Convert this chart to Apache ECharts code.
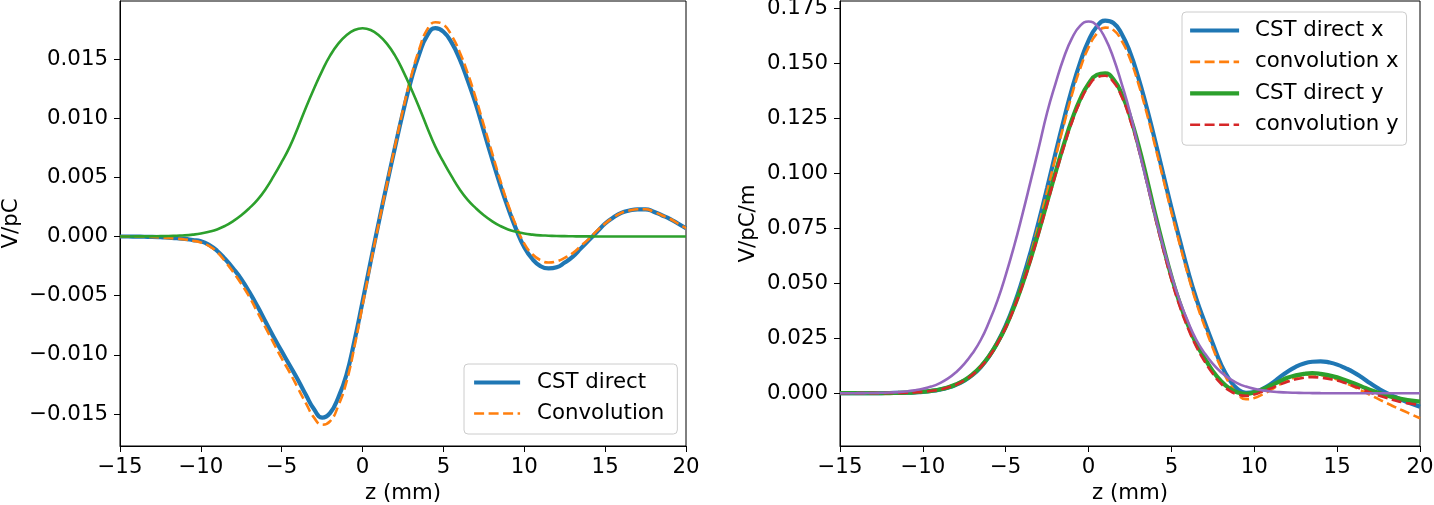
<!DOCTYPE html>
<html>
<head>
<meta charset="utf-8">
<script src="https://cdn.jsdelivr.net/npm/echarts@6/dist/echarts.min.js"></script>
<style>
html,body{margin:0;padding:0;background:#fff;}
#c{width:1434px;height:505px;}
</style>
</head>
<body>
<div id="c"></div>
<script>
// ---------- Left panel data (z in mm, V/pC), z = -15 .. 20 step 0.5 ----------
const zLeft = [-15,-14.5,-14,-13.5,-13,-12.5,-12,-11.5,-11,-10.5,-10,-9.5,-9,-8.5,-8,-7.5,-7,-6.5,-6,-5.5,-5,-4.5,-4,-3.5,-3,-2.5,-2,-1.5,-1,-0.5,0,0.5,1,1.5,2,2.5,3,3.5,4,4.5,5,5.5,6,6.5,7,7.5,8,8.5,9,9.5,10,10.5,11,11.5,12,12.5,13,13.5,14,14.5,15,15.5,16,16.5,17,17.5,18,18.5,19,19.5,20];
const cstDirect = [0,0,-0.00001,-0.00002,-0.00003,-0.00006,-0.0001,-0.00014,-0.0002,-0.0003,-0.0004,-0.0007,-0.0012,-0.0019,-0.0027,-0.0036,-0.0047,-0.0059,-0.0072,-0.0085,-0.0097,-0.0109,-0.0121,-0.0134,-0.0146,-0.0153,-0.0149,-0.0136,-0.0117,-0.0088,-0.0055,-0.0021,0.0012,0.0044,0.0075,0.0105,0.0132,0.0154,0.0170,0.0176,0.0173,0.0164,0.0150,0.0132,0.0112,0.0089,0.0066,0.0044,0.0024,0.0006,-0.0009,-0.0019,-0.0025,-0.0027,-0.0026,-0.0022,-0.0017,-0.0010,-0.0003,0.0004,0.0011,0.0016,0.0020,0.0022,0.0023,0.0023,0.0021,0.0018,0.0015,0.0011,0.0007];
const convolution = [0,0,-0.00001,-0.00002,-0.00004,-0.00008,-0.00012,-0.00018,-0.00025,-0.00035,-0.0005,-0.0008,-0.0013,-0.0021,-0.0030,-0.0040,-0.0051,-0.0064,-0.0077,-0.0090,-0.0103,-0.0115,-0.0128,-0.0141,-0.0153,-0.0159,-0.0156,-0.0143,-0.0123,-0.0093,-0.0058,-0.0023,0.0011,0.0044,0.0076,0.0107,0.0135,0.0158,0.0175,0.0181,0.0179,0.0170,0.0156,0.0138,0.0117,0.0094,0.0071,0.0048,0.0027,0.0009,-0.0006,-0.0015,-0.0020,-0.0022,-0.0021,-0.0018,-0.0014,-0.0008,-0.0002,0.0005,0.0011,0.0016,0.0020,0.0022,0.0023,0.0023,0.0021,0.0018,0.0015,0.0011,0.0007];
const bunchLeft = [0,0,0.00001,0.00001,0.00002,0.00003,0.00004,0.00007,0.0001,0.00016,0.00025,0.0004,0.0006,0.0009,0.0013,0.0018,0.0024,0.0031,0.0040,0.0051,0.0063,0.0076,0.0092,0.0109,0.0125,0.0140,0.0153,0.0163,0.0170,0.01745,0.0176,0.01745,0.0170,0.0163,0.0153,0.0140,0.0125,0.0109,0.0092,0.0076,0.0063,0.0051,0.0040,0.0031,0.0024,0.0018,0.0013,0.0009,0.0006,0.0004,0.00025,0.00016,0.0001,0.00007,0.00004,0.00003,0.00002,0.00001,0.00001,0,0,0,0,0,0,0,0,0,0,0,0];

// ---------- Right panel data (z in mm, V/pC/m), z = -15 .. 20 step 0.5 ----------
const zRight = [-15,-14.5,-14,-13.5,-13,-12.5,-12,-11.5,-11,-10.5,-10,-9.5,-9,-8.5,-8,-7.5,-7,-6.5,-6,-5.5,-5,-4.5,-4,-3.5,-3,-2.5,-2,-1.5,-1,-0.5,0,0.5,1,1.5,2,2.5,3,3.5,4,4.5,5,5.5,6,6.5,7,7.5,8,8.5,9,9.5,10,10.5,11,11.5,12,12.5,13,13.5,14,14.5,15,15.5,16,16.5,17,17.5,18,18.5,19,19.5,20];
const cstDirectX = [0,0.00001,0.00002,0.00003,0.00005,0.00008,0.0001,0.00015,0.0002,0.0004,0.0006,0.0010,0.0016,0.0025,0.0038,0.0057,0.0083,0.0119,0.0168,0.0230,0.0307,0.0401,0.0514,0.0641,0.0783,0.0933,0.1090,0.1241,0.1384,0.1505,0.1603,0.1667,0.1694,0.1683,0.1633,0.1550,0.1436,0.1301,0.1152,0.0998,0.0843,0.0697,0.0555,0.0430,0.0325,0.0225,0.0130,0.0062,0.0018,0.0002,0.0005,0.0020,0.0042,0.0070,0.0098,0.0120,0.0135,0.0143,0.0145,0.0140,0.0130,0.0114,0.0095,0.0071,0.0045,0.0021,0.0000,-0.0017,-0.0033,-0.0048,-0.0062];
const convolutionX = [0,0.00001,0.00002,0.00003,0.00005,0.00008,0.0001,0.00015,0.0002,0.0004,0.0006,0.0010,0.0016,0.0025,0.0038,0.0057,0.0082,0.0118,0.0166,0.0227,0.0303,0.0395,0.0506,0.0631,0.0770,0.0917,0.1070,0.1218,0.1358,0.1477,0.1572,0.1635,0.1662,0.1651,0.1602,0.1520,0.1409,0.1276,0.1129,0.0976,0.0823,0.0678,0.0538,0.0412,0.0305,0.0205,0.0115,0.0045,-0.0005,-0.0027,-0.0022,-0.0005,0.0015,0.0038,0.0058,0.0072,0.0082,0.0085,0.0083,0.0074,0.0062,0.0047,0.0030,0.0011,-0.0008,-0.0027,-0.0045,-0.0063,-0.0080,-0.0097,-0.0114];
const cstDirectY = [0,0,0.00001,0.00002,0.00003,0.00004,0.00007,0.00013,0.00023,0.00039,0.00065,0.00107,0.0017,0.0026,0.0040,0.0059,0.0086,0.0122,0.0169,0.0229,0.0302,0.0391,0.0494,0.0610,0.0737,0.0869,0.1002,0.1129,0.1244,0.1338,0.1407,0.1447,0.1454,0.1427,0.1360,0.1260,0.1130,0.0980,0.0820,0.0670,0.0530,0.0410,0.0310,0.0225,0.0160,0.0100,0.0055,0.0022,0.0003,-0.0003,0.0004,0.0018,0.0035,0.0053,0.0070,0.0081,0.0088,0.0091,0.0088,0.0081,0.0072,0.0059,0.0045,0.0030,0.0015,0.0002,-0.0010,-0.0020,-0.0028,-0.0034,-0.0038];
const convolutionY = [0,0,0.00001,0.00002,0.00003,0.00004,0.00007,0.00013,0.00022,0.00038,0.00062,0.00104,0.0016,0.0026,0.0039,0.0058,0.0084,0.0120,0.0166,0.0226,0.0298,0.0386,0.0488,0.0603,0.0728,0.0860,0.0992,0.1118,0.1233,0.1327,0.1396,0.1436,0.1443,0.1415,0.1348,0.1245,0.1115,0.0965,0.0805,0.0655,0.0515,0.0395,0.0295,0.0212,0.0145,0.0088,0.0043,0.0012,-0.0006,-0.0012,-0.0006,0.0008,0.0022,0.0038,0.0052,0.0063,0.0070,0.0073,0.0071,0.0065,0.0058,0.0046,0.0032,0.0018,0.0003,-0.0010,-0.0022,-0.0033,-0.0042,-0.0048,-0.0053];
const bunchRight = [0,0.00001,0.00002,0.00005,0.0001,0.0002,0.0003,0.0005,0.0008,0.0013,0.0020,0.0030,0.0045,0.0066,0.0095,0.0133,0.0182,0.0243,0.0325,0.0421,0.0537,0.0667,0.0811,0.0963,0.1118,0.1276,0.1406,0.1524,0.1614,0.1671,0.1690,0.1671,0.1614,0.1524,0.1406,0.1276,0.1118,0.0963,0.0811,0.0667,0.0537,0.0421,0.0325,0.0243,0.0182,0.0133,0.0095,0.0066,0.0045,0.0030,0.0020,0.0013,0.0008,0.0005,0.0003,0.0002,0.0001,0.00005,0.00002,0.00001,0,0,0,0,0,0,0,0,0,0,0];

// ---------- Tick labels ----------
const xTicks = [-15,-10,-5,0,5,10,15,20];
const yTicksLeft = [-0.015,-0.010,-0.005,0.000,0.005,0.010,0.015];
const yTicksRight = [0.000,0.025,0.050,0.075,0.100,0.125,0.150,0.175];

const FONT = 'DejaVu Sans';
const FS = 21.3;
const minus = s => s.replace('-', '\u2212');
const pair = (xs, ys) => xs.map((x, i) => [x, ys[i]]);

function xAxisCfg(gi) {
  return {
    gridIndex: gi, type: 'value', min: -15, max: 20, interval: 5,
    name: 'z (mm)', nameLocation: 'middle', nameGap: 37,
    nameTextStyle: {fontFamily: FONT, fontSize: FS, color: '#000'},
    axisLine: {show: true, onZero: false, lineStyle: {color: '#000', width: 1}},
    axisTick: {show: true, inside: false, length: 6, lineStyle: {color: '#000', width: 1}, customValues: xTicks},
    axisLabel: {fontFamily: FONT, fontSize: FS, color: '#000', margin: 11, customValues: xTicks,
      formatter: v => minus(String(Math.round(v)))},
    splitLine: {show: false}
  };
}
function yAxisCfg(gi, min, max, ticks, name, gap) {
  return {
    gridIndex: gi, type: 'value', min: min, max: max,
    name: name, nameLocation: 'middle', nameGap: gap,
    nameTextStyle: {fontFamily: FONT, fontSize: FS, color: '#000'},
    axisLine: {show: true, onZero: false, lineStyle: {color: '#000', width: 1}},
    axisTick: {show: true, inside: false, length: 6, lineStyle: {color: '#000', width: 1}, customValues: ticks},
    axisLabel: {fontFamily: FONT, fontSize: FS, color: '#000', margin: 12, customValues: ticks,
      formatter: v => minus(v.toFixed(3))},
    splitLine: {show: false}
  };
}
function line(name, xi, yi, data, color, width, dashed) {
  return {
    name: name, type: 'line', xAxisIndex: xi, yAxisIndex: yi, data: data,
    showSymbol: false, symbol: 'none', smooth: 0.5, animation: false,
    lineStyle: {color: color, width: width, type: dashed ? [10, 4.5] : 'solid', cap: 'butt'},
    itemStyle: {color: color}
  };
}
const legendCommon = {
  orient: 'vertical', selectedMode: false,
  backgroundColor: 'rgba(255,255,255,0.8)', borderColor: '#cccccc', borderWidth: 1, borderRadius: 4,
  itemStyle: {opacity: 0},
  lineStyle: {width: 'inherit', type: 'inherit'}
};

const chart = echarts.init(document.getElementById('c'), null, {renderer: 'canvas'});
chart.setOption({
  animation: false,
  backgroundColor: '#fff',
  grid: [
    {left: 120, right: 748, top: 1, bottom: 59, show: true, borderColor: '#000', borderWidth: 1, backgroundColor: 'transparent', outerBoundsMode: 'none'},
    {left: 840, right: 14, top: 1, bottom: 59, show: true, borderColor: '#000', borderWidth: 1, backgroundColor: 'transparent', outerBoundsMode: 'none'}
  ],
  xAxis: [xAxisCfg(0), xAxisCfg(1)],
  yAxis: [
    yAxisCfg(0, -0.0177, 0.0199, yTicksLeft, 'V/pC', 98),
    yAxisCfg(1, -0.024, 0.1783, yTicksRight, 'V/pC/m', 81)
  ],
  legend: [
    Object.assign({}, legendCommon, {
      left: 464, top: 364, padding: [8, 13, 10, 8], itemGap: 10,
      itemWidth: 46, itemHeight: 14,
      textStyle: {fontFamily: FONT, fontSize: FS, color: '#000', padding: [0, 0, 0, 12]},
      data: ['CST direct', 'Convolution']
    }),
    Object.assign({}, legendCommon, {
      left: 1182, top: 12, padding: [8, 8, 10, 6], itemGap: 10.4,
      itemWidth: 49, itemHeight: 14,
      textStyle: {fontFamily: FONT, fontSize: FS, color: '#000', padding: [0, 0, 0, 11]},
      data: ['CST direct x', 'convolution x', 'CST direct y', 'convolution y']
    })
  ],
  series: [
    line('CST direct', 0, 0, pair(zLeft, cstDirect), '#1f77b4', 4.2, false),
    line('Convolution', 0, 0, pair(zLeft, convolution), '#ff7f0e', 2.6, true),
    line('bunch', 0, 0, pair(zLeft, bunchLeft), '#2ca02c', 2.6, false),
    line('CST direct x', 1, 1, pair(zRight, cstDirectX), '#1f77b4', 4.2, false),
    line('convolution x', 1, 1, pair(zRight, convolutionX), '#ff7f0e', 2.6, true),
    line('CST direct y', 1, 1, pair(zRight, cstDirectY), '#2ca02c', 4.2, false),
    line('convolution y', 1, 1, pair(zRight, convolutionY), '#d62728', 2.6, true),
    line('bunch profile', 1, 1, pair(zRight, bunchRight), '#9467bd', 2.6, false)
  ]
});
</script>
</body>
</html>
